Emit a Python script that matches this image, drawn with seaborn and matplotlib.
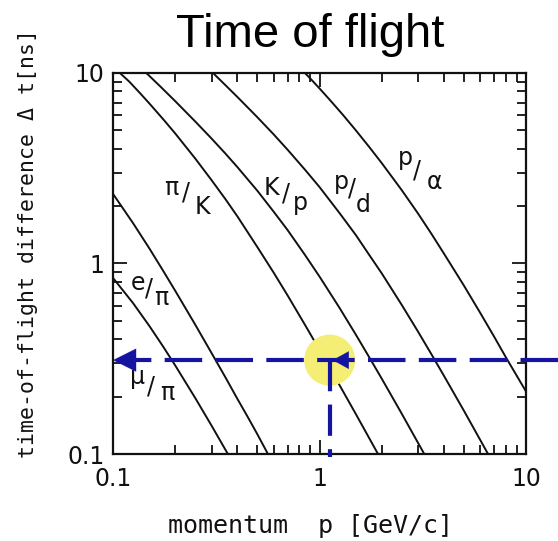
import numpy as np
import pandas as pd
import matplotlib
matplotlib.use("Agg")
import matplotlib.pyplot as plt
import seaborn as sns
from matplotlib.ticker import FixedLocator, FixedFormatter, NullFormatter, LogLocator

# ---------------- data ----------------
p_e_pi = [0.1, 0.125, 0.15, 0.175, 0.2, 0.25, 0.3, 0.35, 0.4, 0.45, 0.5, 0.56]
dt_e_pi = [2.32, 1.63, 1.20, 0.915, 0.72, 0.478, 0.339, 0.253, 0.195, 0.156, 0.127, 0.101]

p_mu_pi = [0.1, 0.125, 0.15, 0.175, 0.2, 0.25, 0.3, 0.36]
dt_mu_pi = [0.84, 0.62, 0.47, 0.366, 0.292, 0.197, 0.141, 0.100]

p_pi_K = [0.108, 0.12, 0.135, 0.15, 0.175, 0.2, 0.25, 0.3, 0.35, 0.4, 0.5, 0.6,
          0.7, 0.85, 1.0, 1.25, 1.5, 1.92]
dt_pi_K = [10.0, 9.0, 7.85, 6.92, 5.72, 4.82, 3.56, 2.74, 2.18, 1.77, 1.22, 0.895,
           0.681, 0.477, 0.352, 0.230, 0.162, 0.100]

p_K_p = [0.145, 0.17, 0.2, 0.25, 0.3, 0.35, 0.4, 0.5, 0.6, 0.7, 0.85, 1.0, 1.25,
         1.5, 1.75, 2.0, 2.5, 3.2]
dt_K_p = [10.0, 8.47, 7.12, 5.57, 4.53, 3.78, 3.21, 2.41, 1.87, 1.50, 1.11, 0.854,
          0.585, 0.423, 0.319, 0.249, 0.163, 0.101]

p_p_d = [0.305, 0.35, 0.4, 0.5, 0.6, 0.7, 0.85, 1.0, 1.25, 1.5, 1.75, 2.0, 2.5,
         3.0, 3.5, 4.0, 5.0, 6.55]
dt_p_d = [10.0, 8.64, 7.49, 5.86, 4.76, 3.96, 3.11, 2.52, 1.84, 1.41, 1.10, 0.889,
          0.607, 0.439, 0.331, 0.258, 0.169, 0.100]

p_p_alpha = [0.85, 0.9, 1.0, 1.1, 1.2, 1.3, 1.5, 1.75, 2.0, 2.5, 3.0, 3.5, 4.0,
             5.0, 6.0, 7.0, 8.0, 10.0]
dt_p_alpha = [10.0, 9.39, 8.30, 7.40, 6.65, 6.02, 5.00, 4.06, 3.37, 2.43, 1.83,
              1.42, 1.13, 0.767, 0.551, 0.414, 0.321, 0.213]

pair_names = ["e/π", "μ/π", "π/K", "K/p", "p/d", "p/α"]

marker_p = 1.12      # highlighted momentum (GeV/c)
marker_dt = 0.311    # highlighted time difference (ns)

x_ticks = [0.1, 1, 10]
x_tick_labels = ["0.1", "1", "10"]
y_ticks = [0.1, 1, 10]
y_tick_labels = ["0.1", "1", "10"]

title = "Time of flight"
x_label = "momentum  p [GeV/c]"
y_label = "time-of-flight difference Δ t[ns]"

# ---------------- build table ----------------
series = [(p_e_pi, dt_e_pi), (p_mu_pi, dt_mu_pi), (p_pi_K, dt_pi_K),
          (p_K_p, dt_K_p), (p_p_d, dt_p_d), (p_p_alpha, dt_p_alpha)]
rows = []
for name, (ps, dts) in zip(pair_names, series):
    for p, dt in zip(ps, dts):
        rows.append({"pair": name, "p": p, "dt": dt})
df = pd.DataFrame(rows)

# ---------------- figure ----------------
sns.set_style("ticks")
plt.rcParams["font.family"] = ["DejaVu Sans"]

W, H = 558, 541
fig = plt.figure(figsize=(W / 100, H / 100), dpi=100)
L, R, T, B = 113, 526, 73, 454
ax = fig.add_axes([L / W, 1 - B / H, (R - L) / W, (B - T) / H])

ink = "#111111"
sns.lineplot(data=df, x="p", y="dt", hue="pair", units="pair", estimator=None,
             palette={n: ink for n in pair_names}, sort=False, legend=False,
             linewidth=1.4, ax=ax, zorder=2)

ax.set_xscale("log")
ax.set_yscale("log")
ax.set_xlim(0.1, 10)
ax.set_ylim(0.1, 10)
ax.set_xlabel("")
ax.set_ylabel("")

for axis, ticks, labels in [(ax.xaxis, x_ticks, x_tick_labels), (ax.yaxis, y_ticks, y_tick_labels)]:
    axis.set_major_locator(FixedLocator(ticks))
    axis.set_major_formatter(FixedFormatter(labels))
    axis.set_minor_locator(LogLocator(base=10, subs=np.arange(2, 10)))
    axis.set_minor_formatter(NullFormatter())

ax.tick_params(which="both", direction="in", top=True, right=True, color=ink)
ax.tick_params(which="major", length=10, width=1.3, labelsize=17, labelcolor=ink)
ax.tick_params(which="minor", length=6.5, width=1.3)
ax.tick_params(axis="x", which="major", pad=9)
ax.tick_params(axis="y", which="major", pad=6)
for s in ax.spines.values():
    s.set_linewidth(1.6)
    s.set_color(ink)

# ---------------- curve labels ----------------
def fx(px):
    return (px - L) / (R - L)

def fy(py):
    return (B - py) / (B - T)

label_parts = [
    ("π", 171, 188), ("/", 186, 193), ("K", 202, 207),
    ("K", 271, 188), ("/", 286, 194), ("p", 300, 203),
    ("p", 341, 182), ("/", 352, 189), ("d", 363, 205),
    ("p", 405, 158), ("/", 417, 171), ("α", 434, 182),
    ("e", 138, 283), ("/", 149, 289), ("π", 161, 298),
    ("μ", 138, 377), ("/", 151, 387), ("π", 167, 393),
]
for txt, px, py in label_parts:
    ax.text(fx(px), fy(py), txt, transform=ax.transAxes, ha="center", va="center",
            fontsize=17, color=ink, zorder=3)

# ---------------- highlighted point & dashed guides ----------------
navy = "#1414a0"
ax.scatter([marker_p], [marker_dt], s=1350, color="#f4ef74", edgecolor="none",
           zorder=4, clip_on=False)
x_far = 10 ** (1 + (W - R) / (R - L) * 2)
ax.plot([x_far, 0.118], [marker_dt, marker_dt], color=navy, lw=3, dashes=(9, 3.2),
        clip_on=False, zorder=5, dash_capstyle="butt")
y_low = 10 ** (-1 - 2 * 3 / (B - T))
ax.plot([marker_p, marker_p], [marker_dt, y_low], color=navy, lw=3, dashes=(7.5, 3.2),
        clip_on=False, zorder=5, dash_capstyle="butt")
ax.annotate("", xy=(0.1, marker_dt), xytext=(0.1 * 10 ** (2 * 23 / (R - L)), marker_dt),
            arrowprops=dict(arrowstyle="-|>,head_length=1.0,head_width=0.5",
                            mutation_scale=16.5, color=navy, lw=0.1,
                            shrinkA=0, shrinkB=0), zorder=6, annotation_clip=False)
ax.annotate("", xy=(marker_p * 10 ** (2 * 3 / (R - L)), marker_dt),
            xytext=(marker_p * 10 ** (2 * 19 / (R - L)), marker_dt),
            arrowprops=dict(arrowstyle="-|>,head_length=1.0,head_width=0.55",
                            mutation_scale=11.5, color=navy, lw=0.1,
                            shrinkA=0, shrinkB=0), zorder=6, annotation_clip=False)

# ---------------- titles ----------------
fig.text(310 / W, 1 - 47 / H, title, ha="center", va="baseline", fontsize=34,
         family=["Liberation Sans", "DejaVu Sans"], color="black")
fig.text(28 / W, 1 - 243 / H, y_label, rotation=90, ha="center", va="center",
         fontsize=15.5, family=["DejaVu Sans Mono", "DejaVu Sans"], color=ink)
fig.text(310 / W, 1 - 526 / H, x_label, ha="center", va="center",
         fontsize=18, family=["DejaVu Sans Mono", "DejaVu Sans"], color=ink)

fig.savefig("out.png", dpi=100)
